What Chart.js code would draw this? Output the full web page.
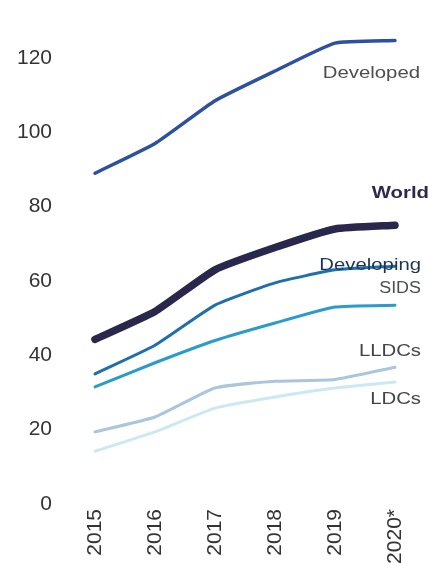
<!DOCTYPE html>
<html>
<head>
<meta charset="utf-8">
<script src="https://cdn.jsdelivr.net/npm/chart.js@4.4.1/dist/chart.umd.min.js"></script>
<style>
    html, body { margin: 0; padding: 0; background: #fff; }
    #lineCanvas { display: block; }
</style>
</head>
<body>
<canvas id="lineCanvas" width="430" height="563"></canvas>
<script>
const years = ["2015", "2016", "2017", "2018", "2019", "2020*"];
const yTicks = [0, 20, 40, 60, 80, 100, 120];

const developed = [89, 97, 108.5, 116.5, 124, 124.7];
const world = [44.3, 51.8, 63, 69, 74, 75];
const developing = [35, 42.7, 53.5, 59.5, 63, 64];
const sids = [31.5, 38, 44, 48.7, 53, 53.5];
const lldcs = [19.4, 23.4, 31.2, 33, 33.5, 36.8];
const ldcs = [14.2, 19.4, 25.8, 28.8, 31.2, 32.8];

// names drawn at the right end of each line, with the value they sit at
const seriesNames = ["Developed", "World", "Developing", "SIDS", "LLDCs", "LDCs"];
const nameValues = [115.9, 83.6, 64.2, 58, 41, 28.2];

var lineChart;

function makeSet(label, data, color, width){
    return {
        label: label,
        data: data,
        borderColor: color,
        backgroundColor: color,
        borderWidth: width,
        pointRadius: 0,
        tension: 0.15,
        clip: false,
        borderCapStyle: "round",
        borderJoinStyle: "round"
    };
}

const lineNames = {
    id: "lineNames",
    afterDatasetsDraw(chart){
        const ctx = chart.ctx;
        const y = chart.scales.y;
        const styles = [
            {font: "16px 'Liberation Sans'", color: "#4d4d4d"},
            {font: "bold 16px 'Liberation Sans'", color: "#2b2a4c"},
            {font: "16px 'Liberation Sans'", color: "#1c3553"},
            {font: "16px 'Liberation Sans'", color: "#4d4d4d"},
            {font: "16px 'Liberation Sans'", color: "#444444"},
            {font: "16px 'Liberation Sans'", color: "#444444"}
        ];
        const rightEdge = [420, 429, 421, 421, 421, 421];
        ctx.save();
        ctx.textAlign = "right";
        ctx.textBaseline = "middle";
        seriesNames.forEach((name, i) => {
            ctx.save();
            ctx.font = styles[i].font;
            ctx.fillStyle = styles[i].color;
            // the source text is drawn wide, so stretch it sideways
            ctx.translate(rightEdge[i], y.getPixelForValue(nameValues[i]));
            ctx.scale(i == 3 ? 1.12 : 1.27, 1);
            ctx.fillText(name, 0, 0);
            ctx.restore();
        });
        ctx.restore();
    }
};

function initChart(){
    Chart.defaults.font.family = "'Liberation Sans', Arial, sans-serif";
    lineChart = new Chart(document.getElementById("lineCanvas"), {
        type: "line",
        data: {
            labels: years,
            datasets: [
                makeSet("LDCs", ldcs, "#cbe8f3", 3),
                makeSet("LLDCs", lldcs, "#a9c6dc", 3),
                makeSet("SIDS", sids, "#2a9ccb", 3),
                makeSet("Developing", developing, "#1e6fae", 3),
                makeSet("Developed", developed, "#2d50a0", 3.5),
                makeSet("World", world, "#29274b", 7.5)
            ]
        },
        options: {
            responsive: false,
            animation: false,
            layout: { padding: { left: 0, right: 35, top: 58, bottom: 0 } },
            plugins: {
                legend: { display: false },
                tooltip: { enabled: false }
            },
            scales: {
                x: {
                    offset: false,
                    grid: { display: false, drawTicks: false },
                    border: { display: false },
                    ticks: {
                        color: "#333333",
                        font: { size: 21 },
                        minRotation: 90,
                        maxRotation: 90,
                        padding: 5,
                        autoSkip: false
                    },
                    afterFit(scale){ scale.height = 59; }
                },
                y: {
                    min: 0,
                    max: 120,
                    grid: { display: false, drawTicks: false },
                    border: { display: false },
                    afterBuildTicks(scale){
                        scale.ticks = yTicks.map(v => ({ value: v }));
                    },
                    ticks: {
                        color: "#333333",
                        font: { size: 21 },
                        padding: 43
                    },
                    afterFit(scale){ scale.width = 95; }
                }
            }
        },
        plugins: [lineNames]
    });
}

initChart();
</script>
</body>
</html>
